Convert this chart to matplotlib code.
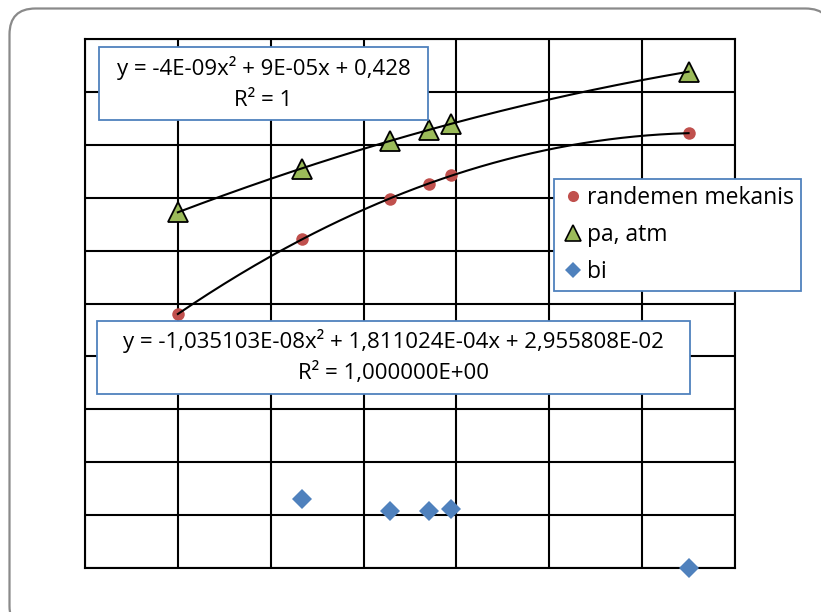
import matplotlib
matplotlib.use("Agg")
import matplotlib.pyplot as plt
import numpy as np
from matplotlib.patches import Rectangle, FancyBboxPatch
from matplotlib.lines import Line2D

plt.rcParams['font.family'] = ['Open Sans', 'DejaVu Sans']

# data
x = [1000, 2340, 3280, 3700, 3940, 6500]
randemen = [0.480, 0.622, 0.698, 0.726, 0.742, 0.822]
pa = [0.673, 0.754, 0.808, 0.828, 0.840, 0.938]
bi_x = [2340, 3280, 3700, 3940, 6500]
bi = [0.130, 0.108, 0.107, 0.112, 0.000]

eq_pa = ["y = -4E-09x² + 9E-05x + 0,428", "R² = 1"]
eq_rand = ["y = -1,035103E-08x² + 1,811024E-04x + 2,955808E-02", "R² = 1,000000E+00"]

W, H = 821, 612
fig = plt.figure(figsize=(W / 100, H / 100), dpi=100)

def fx(px):
    return px / W

def fy(py):
    return 1 - py / H

# outer rounded frame (partly outside the picture, like the original)
frame = FancyBboxPatch((9.5, -20), 822, H - 8 + 20 - 0.5,
                       boxstyle="round,pad=0,rounding_size=26",
                       transform=None, facecolor='white', edgecolor='#8a8a8a',
                       linewidth=1.6, zorder=-5)
fig.patches.append(frame)

ax = fig.add_axes([fx(85), fy(568), fx(735) - fx(85), fy(39) - fy(568)])
ax.set_facecolor('none')
ax.set_xlim(0, 7000)
ax.set_ylim(0, 1.0)
ax.set_xticks(np.arange(0, 7001, 1000))
ax.set_yticks(np.arange(0, 1.01, 0.1))
ax.tick_params(length=0, labelbottom=False, labelleft=False)
ax.grid(True, color='black', linewidth=1.5)
for s in ax.spines.values():
    s.set_color('black')
    s.set_linewidth(1.5)

ax.plot(x, randemen, 'o', color='#C0504D', markersize=9, markeredgewidth=0,
        zorder=3, clip_on=False)
ax.plot(x, pa, '^', color='#9BBB59', markeredgecolor='black', markeredgewidth=1.3,
        markersize=14, zorder=3, clip_on=False)
ax.plot(bi_x, bi, 'D', color='#4F81BD', markersize=10, markeredgewidth=0,
        zorder=3, clip_on=False)

# quadratic trendlines over the data range
xs = np.linspace(min(x), max(x), 200)
for ys in (pa, randemen):
    c = np.polyfit(x, ys, 2)
    ax.plot(xs, np.polyval(c, xs), color='black', linewidth=1.5, zorder=4)

# trendline labels
def label_box(x0, y0, x1, y1, lines, ly, size):
    fig.patches.append(Rectangle((fx(x0), fy(y1)), fx(x1) - fx(x0), fy(y0) - fy(y1),
                                 transform=fig.transFigure, facecolor='white',
                                 edgecolor='#4F81BD', linewidth=1.3, zorder=5))
    for t, yy in zip(lines, ly):
        fig.text(fx((x0 + x1) / 2), fy(yy), t, ha='center', va='center',
                 fontsize=size, zorder=6)

label_box(99, 47, 428, 120, eq_pa, [68, 101], 16)
label_box(97, 321, 690, 394, eq_rand, [341, 373], 16)

handles = [
    Line2D([], [], linestyle='none', marker='o', color='#C0504D', markersize=8,
           markeredgewidth=0),
    Line2D([], [], linestyle='none', marker='^', color='#9BBB59', markeredgecolor='black',
           markeredgewidth=1.2, markersize=12),
    Line2D([], [], linestyle='none', marker='D', color='#4F81BD', markersize=8.5,
           markeredgewidth=0),
]
leg = fig.legend(handles, ['randemen mekanis', 'pa, atm', 'bi'],
                 loc='upper left', bbox_to_anchor=(fx(554), fy(179)),
                 frameon=True, fancybox=False, fontsize=16.5, handlelength=1.0,
                 handletextpad=0.1, borderpad=0.32, labelspacing=0.55,
                 borderaxespad=0, framealpha=1)
leg.get_frame().set_edgecolor('#4F81BD')
leg.get_frame().set_facecolor('white')
leg.get_frame().set_linewidth(1.3)
leg.set_zorder(7)

fig.savefig('out.png', dpi=100)
